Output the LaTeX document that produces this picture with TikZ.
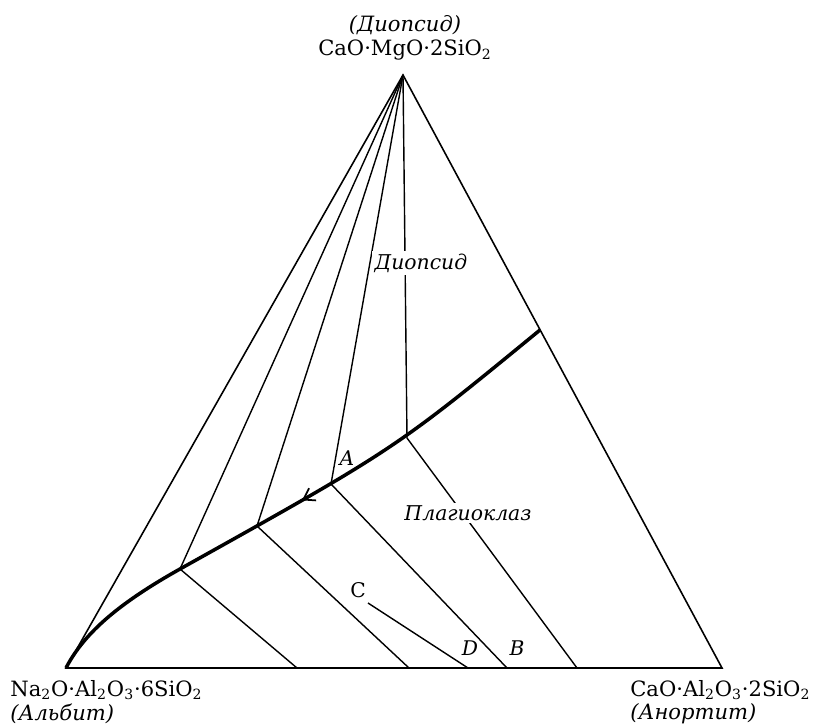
\documentclass[tikz,border=0pt]{standalone}
\usepackage{fontspec}
\setmainfont{DejaVu Serif}
\usepackage{tikz}
\usetikzlibrary{positioning,decorations.markings,arrows.meta}

\newcommand{\chemsub}[1]{\textsubscript{#1}}

\begin{document}
\begin{tikzpicture}[
    x=0.02cm, y=-0.02cm,
    font=\fontsize{12}{14}\selectfont,
    edge/.style={line width=0.9pt},
    tieline/.style={line width=0.8pt},
    boundary/.style={
        line width=2pt,
        line join=round,
        postaction={decorate},
        decoration={markings,
            mark=at position 0.5 with {\arrow[line width=1pt]{Straight Barb[length=6pt,width=8pt]}}}
    },
    field/.style={font=\fontsize{11.6}{13}\selectfont\itshape, fill=white, inner sep=1.5pt},
    pointlabel/.style={font=\fontsize{11.5}{13}\selectfont\itshape, inner sep=1pt},
    formula/.style={inner sep=0pt, align=left},
    mineral/.style={inner sep=0pt, font=\fontsize{12}{14}\selectfont\itshape}
]
\useasboundingbox (0,0) rectangle (815,726);

% corners of the triangle
\coordinate (diop) at (403,75);
\coordinate (ab) at (66,668);
\coordinate (an) at (722,668);

% points on the cotectic line
\coordinate (e1) at (180,569);
\coordinate (e2) at (257,526);
\coordinate (eA) at (331,484);
\coordinate (e4) at (407,438);
\coordinate (e5) at (540,330);
\coordinate (k0) at (395,449);
\coordinate (k1) at (123,601);
\coordinate (k2) at (85,631);

% ends on the base
\coordinate (b1) at (297,668);
\coordinate (b2) at (409,668);
\coordinate (bD) at (468,668);
\coordinate (bB) at (507,668);
\coordinate (b4) at (577,668);
\coordinate (pC) at (368,603);

% tie lines
\foreach \p in {e1,e2,eA,e4}
    \draw[tieline] (diop) -- (\p);
\foreach \a/\b in {e1/b1,e2/b2,eA/bB,e4/b4}
    \draw[tieline] (\a) -- (\b);
\draw[tieline] (pC) -- (bD);

\draw[edge] (ab) -- (diop) -- (an) -- cycle;

\draw[boundary] (e5) .. controls (k0) .. (e1)
    .. controls (k1) and (k2) .. (ab);

% fields
\node[field] (diopfield) at (421,263) {Диопсид};
\node[field] (plagfield) at (468,513) {Плагиоклаз};

% points
\node[pointlabel] (labA) at (347,458) {A};
\node[pointlabel, font=\fontsize{11.5}{13}\selectfont] (labC) at (358,590) {C};
\node[pointlabel] (labD) at (470,648) {D};
\node[pointlabel] (labB) at (517,648) {B};

% compositions
\node[formula, anchor=base] (diopform) at (405,56) {CaO·MgO·2SiO\chemsub{2}};
\node[mineral, above=3pt of diopform] (diopname) {(Диопсид)};

\node[formula, anchor=base west] (abform) at (10,696) {Na\chemsub{2}O·Al\chemsub{2}O\chemsub{3}·6SiO\chemsub{2}};
\node[mineral, below right=2pt and 0pt of abform.south west] (abname) {(Альбит)};

\node[formula, anchor=base west] (anform) at (630,696) {CaO·Al\chemsub{2}O\chemsub{3}·2SiO\chemsub{2}};
\node[mineral, below right=2pt and 0pt of anform.south west] (anname) {(Анортит)};

\end{tikzpicture}
\end{document}
